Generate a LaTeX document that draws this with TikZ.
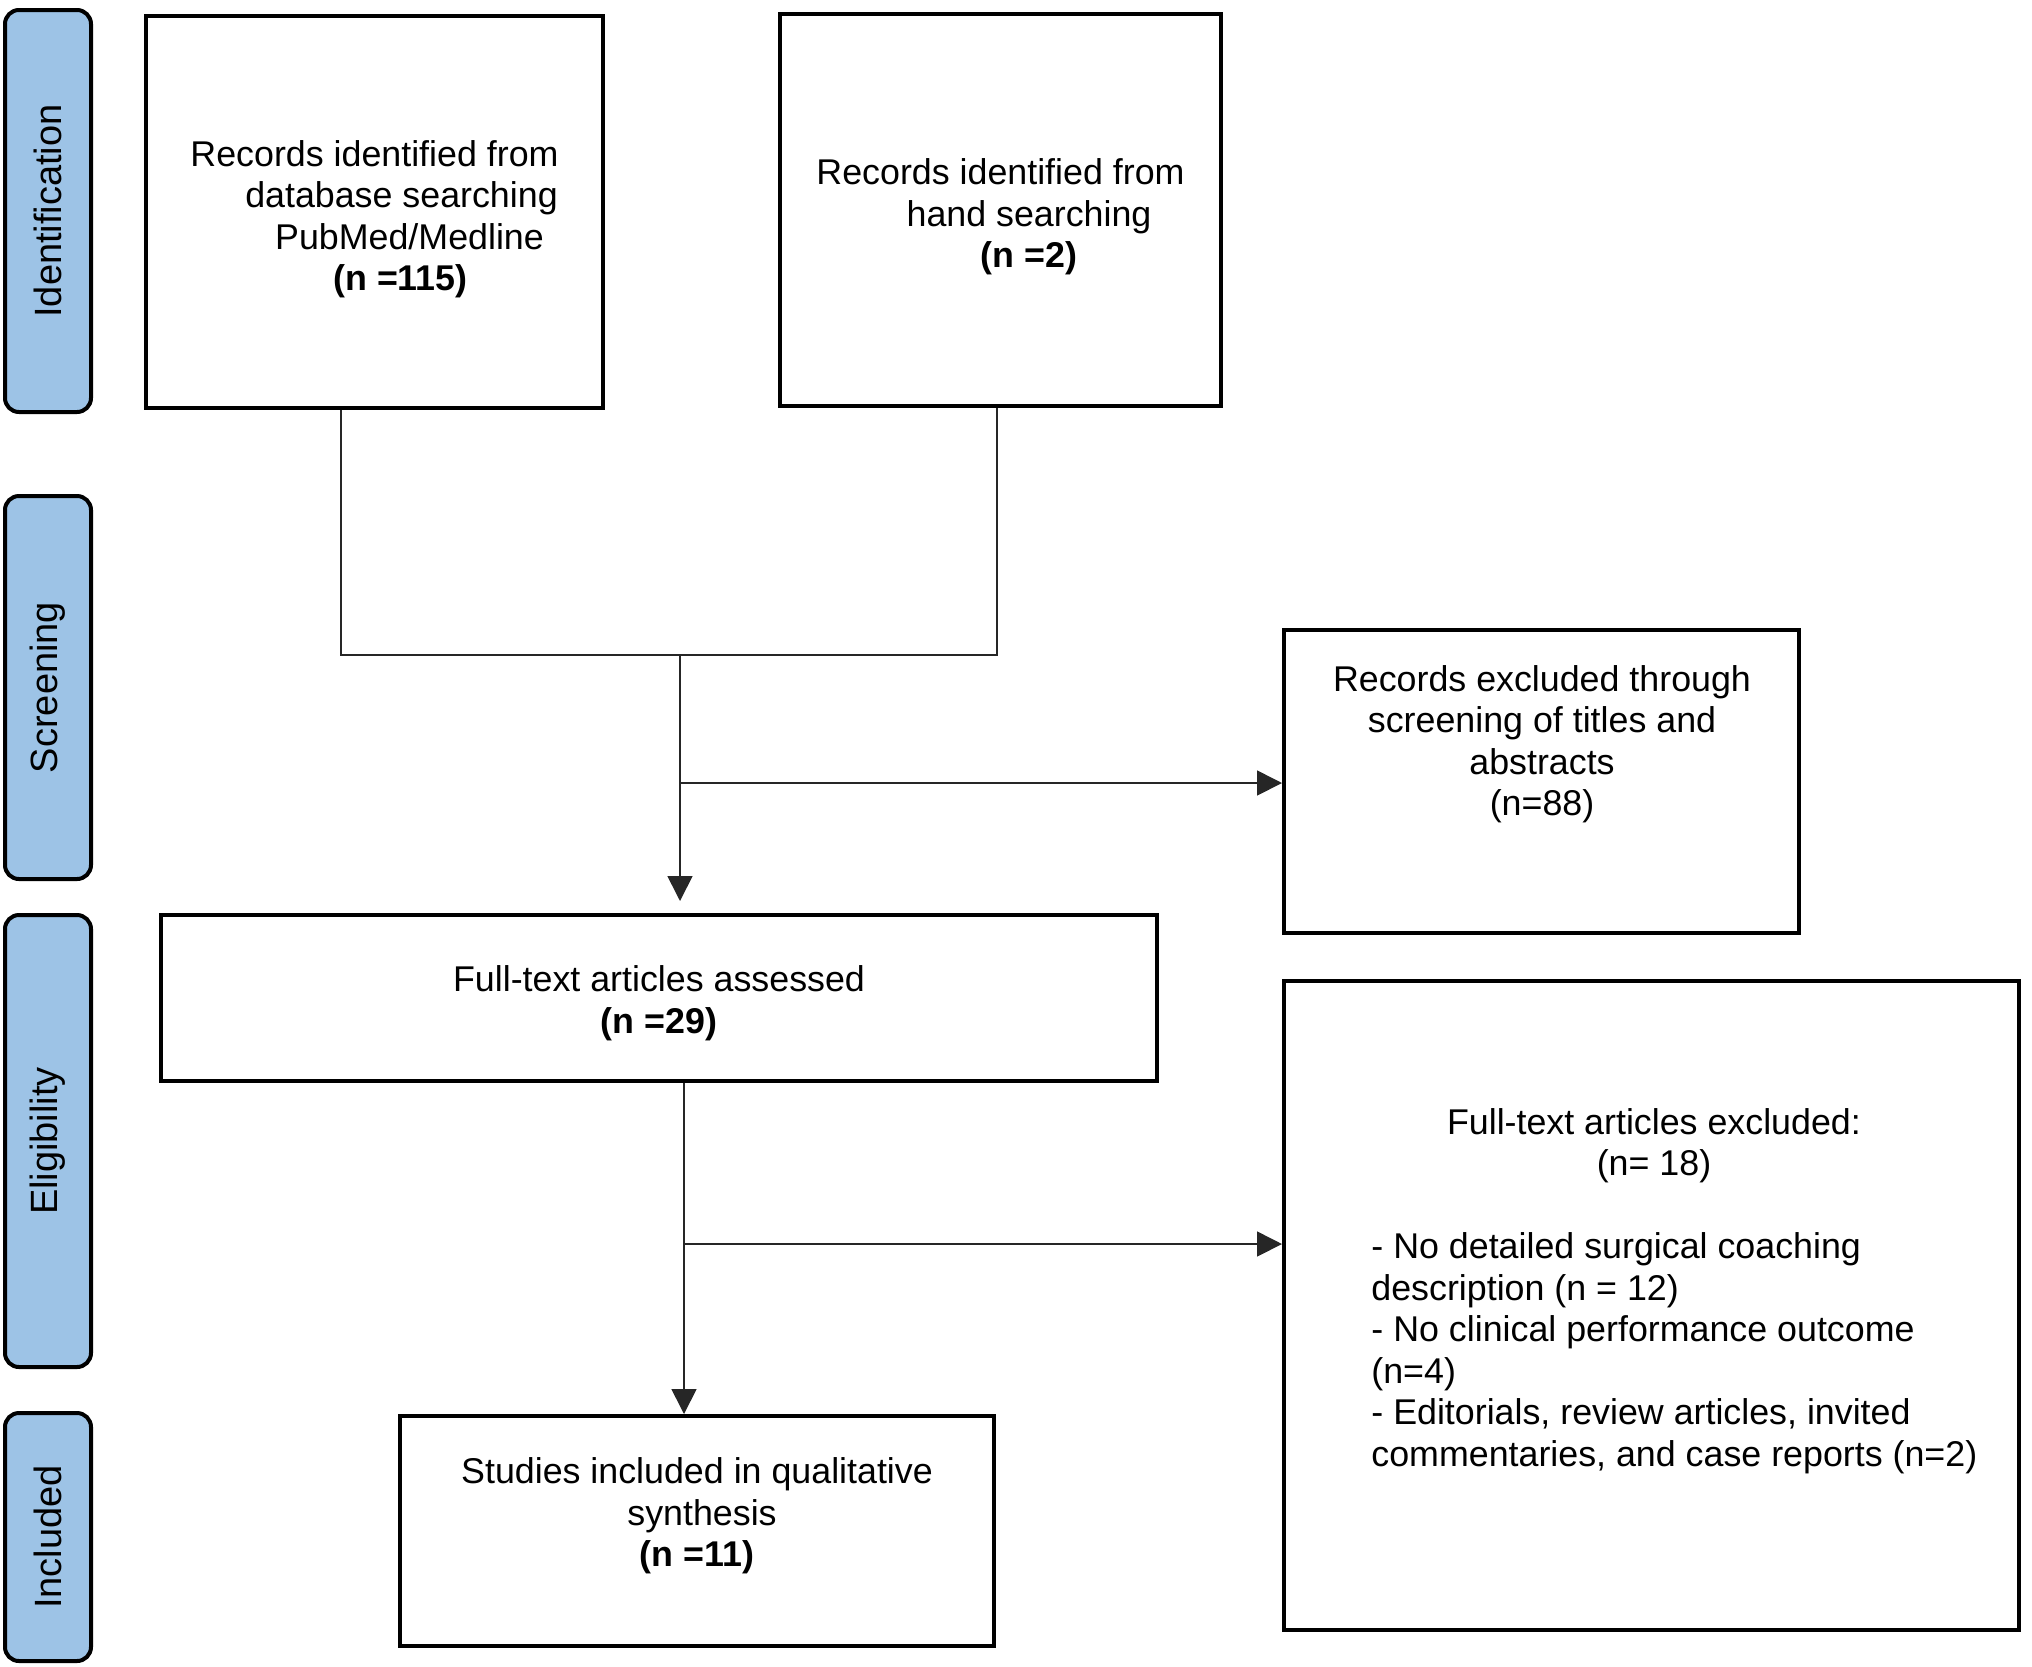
\documentclass[tikz,border=0pt]{standalone}
\usepackage{fontspec}
\setmainfont{Liberation Sans}
\usetikzlibrary{arrows.meta}
\definecolor{sidecol}{RGB}{157,195,230}
\newcommand{\diagfont}{\fontsize{17.9}{20.75}\selectfont}
\begin{document}
\begin{tikzpicture}[x=0.5pt,y=-0.5pt,
  box/.style={draw=black, line width=2pt, rectangle, inner sep=0pt},
  side/.style={draw=black, line width=2pt, fill=sidecol, rounded corners=7pt, rotate=90,
               minimum height=43pt, inner sep=0pt, font=\fontsize{19}{22}\selectfont},
  txt/.style={inner sep=0pt, font=\diagfont, align=center},
  conn/.style={line width=0.8pt, draw=black!85},
  arr/.style={conn, -{Triangle[length=12.5pt,width=12.5pt]}}]
\useasboundingbox (0,0) rectangle (2032,1666);

% phase bars
\node[side, minimum width=201pt]   (sid)   at (48,211)    {Identification};
\node[side, minimum width=191.5pt] (sscr)  at (48,687.5)  {Screening};
\node[side, minimum width=226pt]   (selig) at (48,1141)   {Eligibility};
\node[side, minimum width=124pt]   (sinc)  at (48,1537)   {Included};

% boxes
\node[box, minimum width=228.5pt, minimum height=196pt] (db) at (374.5,212) {};
\node[txt] (dbt) at (374.5,219)
  {Records identified from\\\hspace*{27pt}database searching\\\hspace*{35pt}PubMed/Medline\\\hspace*{26pt}\textbf{(n =115)}};

\node[box, minimum width=220.5pt, minimum height=196pt] (hand) at (1000.5,210) {};
\node[txt] (handt) at (1000.5,217)
  {Records identified from\\\hspace*{28.5pt}hand searching\\\hspace*{28.5pt}\textbf{(n =2)}};

\node[box, minimum width=257.5pt, minimum height=151.5pt] (excl1) at (1541.5,781.5) {};
\node[txt] (excl1t) at (1542,744)
  {Records excluded through\\screening of titles and\\abstracts\\(n=88)};

\node[box, minimum width=498pt, minimum height=83pt] (full) at (659,998) {};
\node[txt] (fullt) at (659,1003)
  {Full-text articles assessed\\\textbf{(n =29)}};

\node[box, minimum width=367.5pt, minimum height=324.5pt] (excl2) at (1651.5,1305.5) {};
\node[txt, align=left, anchor=west] (excl2t) at (1371,1291)
  {\hspace*{37.8pt}Full-text articles excluded:\\\hspace*{112.7pt}(n= 18)\\[20.75pt]- No detailed surgical coaching\\description (n = 12)\\- No clinical performance outcome\\(n=4)\\- Editorials, review articles, invited\\commentaries, and case reports (n=2)};

\node[box, minimum width=297pt, minimum height=115pt] (incl) at (697,1531) {};
\node[txt] (inclt) at (697,1516)
  {Studies included in qualitative\\\hspace*{5pt}synthesis\\\textbf{(n =11)}};

% connectors
\coordinate (jl) at (341,655);
\coordinate (jr) at (997,655);
\coordinate (jm) at (680,655);
\coordinate (br1) at (680,783);
\coordinate (jm2) at (684,1244);

\draw[conn] (db.south -| jl) -- (jl) -- (jr) -- (hand.south -| jr);
\draw[arr, shorten >=6pt] (jm) -- (full.north -| jm);
\draw[arr] (br1) -- (excl1.west |- br1);
\draw[arr] (full.south -| jm2) -- (incl.north -| jm2);
\draw[arr] (jm2) -- (excl2.west |- jm2);
\end{tikzpicture}
\end{document}
